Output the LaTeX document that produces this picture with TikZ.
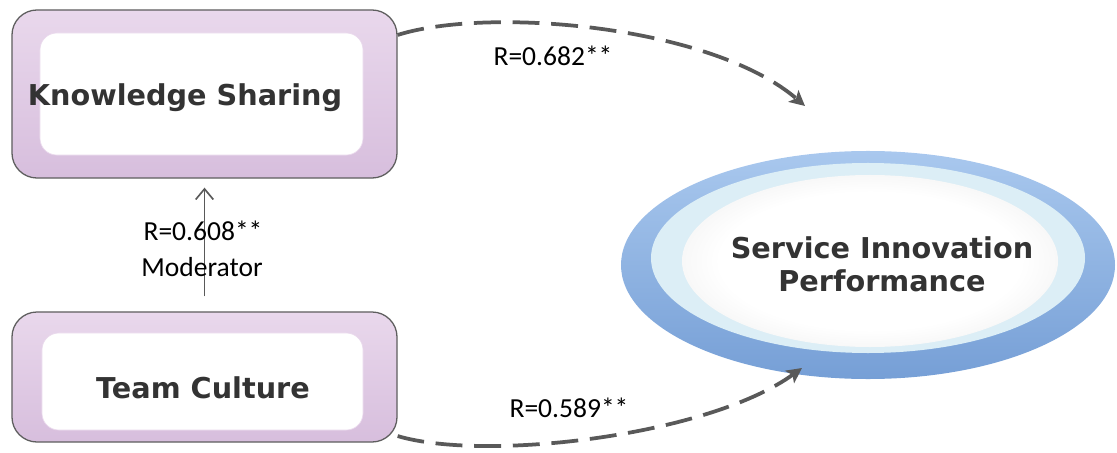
\documentclass[tikz,border=0pt]{standalone}
\usepackage{fontspec}
\usetikzlibrary{shapes.geometric,arrows.meta}
\newfontfamily\dvs{DejaVu Sans}
\newfontfamily\carl{Carlito}
\definecolor{pinkA}{HTML}{E9D8EC}
\definecolor{pinkB}{HTML}{D7BEDD}
\definecolor{boxline}{HTML}{5E5E5E}
\definecolor{txt}{HTML}{333333}
\definecolor{arr}{HTML}{595959}
\definecolor{blueA}{HTML}{A9C8EE}
\definecolor{blueB}{HTML}{769FD6}
\definecolor{ring}{HTML}{DCEEF6}
\pgfdeclareradialshading{plate}{\pgfpoint{0bp}{0bp}}{color(0bp)=(white); color(20bp)=(white); color(36bp)=(black!9); color(50bp)=(black!22)}
\tikzset{
  outerbox/.style={rectangle, rounded corners=0.75cm, draw=boxline, line width=1.1pt,
    top color=pinkA, bottom color=pinkB, minimum width=11.55cm},
  innerbox/.style={rectangle, rounded corners=0.5cm, fill=white, draw=pinkA, line width=0.6pt},
  boxtext/.style={text=txt, font=\dvs\bfseries\fontsize{24.5}{30}\selectfont},
  rlabel/.style={text=black, font=\carl\fontsize{23.5}{28}\selectfont, inner sep=0pt},
  dasharrow/.style={draw=arr, line width=3.2pt, dash pattern=on 23pt off 10pt,
    -{Stealth[length=13pt,width=13pt,inset=3pt]}},
  modarrow/.style={draw=arr, line width=1.4pt, -{Straight Barb[length=9pt,width=15pt]}},
}
\begin{document}
\begin{tikzpicture}[x=0.03cm, y=-0.03cm]
\path[use as bounding box] (0,0) rectangle (1117,453);
% boxes
\node[outerbox, minimum height=5.04cm] (ks) at (204.5,94) {};
\node[innerbox, minimum width=9.69cm, minimum height=3.66cm] (ksin) at (201.5,94) {};
\node[boxtext] (kst) at (185,98) {Knowledge Sharing};
\node[outerbox, minimum height=3.9cm] (tc) at (204.5,377) {};
\node[innerbox, minimum width=9.63cm, minimum height=2.91cm] (tcin) at (202.5,381.5) {};
\node[boxtext] (tct) at (203,388) {Team Culture};
% ellipse
\node[ellipse, top color=blueA, bottom color=blueB, minimum width=14.82cm, minimum height=6.84cm, inner sep=0pt] (sip) at (868,265) {};
\node[ellipse, fill=ring, minimum width=13.02cm, minimum height=5.7cm, inner sep=0pt] (sipr) at (868,258) {};
\node[ellipse, shading=plate, minimum width=11.28cm, minimum height=5.16cm, inner sep=0pt] (sipi) at (870,261) {};
\node[boxtext, align=center, font=\dvs\bfseries\fontsize{24.5}{28}\selectfont] (sipt) at (882,264) {Service Innovation\\Performance};
% arrows
\coordinate (e1) at (805,106);
\coordinate (e2) at (802,368);
\draw[dasharrow] (ks.17.6) .. controls (490,6) and (712,26) .. (e1);
\draw[dasharrow] (tc.-17.8) .. controls (485,462) and (708,436) .. (e2);
\draw[modarrow, shorten <=0.45cm, shorten >=0.27cm] (tc.north) -- (ks.south);
% labels
\node[rlabel] (r1) at (553,56) {R=0.682**};
\node[rlabel] (r2) at (569,408) {R=0.589**};
\node[rlabel] (r3) at (203,231) {R=0.608**};
\node[rlabel] (r4) at (202,267) {Moderator};
\end{tikzpicture}
\end{document}
